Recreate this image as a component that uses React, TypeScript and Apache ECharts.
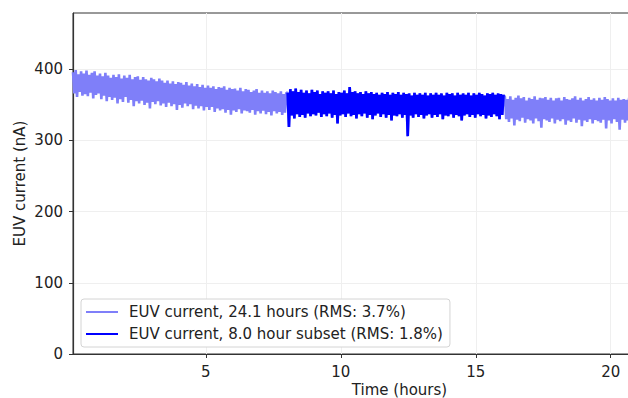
import React, { useEffect, useRef } from "react";
import * as echarts from "echarts";

// sampling grid of the record (hours)
const T0 = 0.08;
const STEP = 0.05;

// EUV current (nA), first part of the 24.1 h record (before the subset)
const lightStart = [
  396, 366, 399, 361, 393, 368, 397, 363, 394, 365,
  398, 362, 392, 367, 395, 359, 397, 364, 391, 366,
  394, 358, 390, 363, 395, 355, 391, 361, 388, 357,
  392, 360, 389, 352, 393, 358, 387, 354, 391, 361,
  388, 353, 392, 357, 386, 348, 389, 355, 390, 352,
  385, 356, 389, 350, 386, 353, 384, 345, 388, 354,
  386, 351, 383, 355, 387, 349, 384, 352, 381, 347,
  384, 353, 380, 348, 383, 351, 379, 343, 382, 350,
  381, 346, 378, 352, 382, 348, 377, 351, 380, 344,
  376, 349, 379, 345, 375, 348, 378, 342, 374, 347,
  377, 343, 374, 347, 376, 340, 372, 345, 375, 342,
  374, 344, 376, 339, 371, 343, 374, 336, 372, 342,
  373, 340, 370, 344, 374, 338, 369, 342, 372, 341,
  371, 339, 368, 343, 370, 336, 372, 341, 367, 338,
  370, 342, 367, 337, 369, 340, 366, 335, 370, 341,
  368, 338, 366, 340, 369, 336, 365, 339, 367,
];

// 8.0 hour subset
const subset = [
  367, 319, 372, 335, 369, 331, 373, 337, 368, 333,
  371, 336, 367, 332, 370, 338, 366, 334, 371, 337,
  368, 335, 370, 339, 365, 333, 369, 337, 367, 334,
  369, 338, 366, 332, 370, 336, 365, 324, 368, 335,
  367, 337, 370, 333, 366, 338, 375, 334, 368, 336,
  369, 331, 366, 337, 368, 334, 365, 338, 369, 332,
  366, 336, 368, 330, 365, 335, 367, 338, 364, 333,
  367, 337, 365, 332, 368, 336, 364, 328, 367, 335,
  365, 334, 368, 337, 364, 332, 367, 336, 365, 306,
  366, 335, 363, 332, 367, 337, 364, 333, 366, 336,
  364, 331, 367, 335, 363, 337, 366, 332, 364, 336,
  367, 333, 364, 337, 366, 330, 363, 335, 367, 334,
  365, 337, 366, 332, 363, 336, 367, 334, 364, 328,
  366, 335, 364, 337, 367, 333, 363, 336, 366, 332,
  364, 337, 367, 334, 365, 336, 363, 331, 366, 335,
  365, 333, 367, 337, 364, 334, 366, 330, 365, 336,
  364,
];

// remainder of the record after the subset
const lightEnd = [
  361, 330, 358, 326, 362, 331, 357, 321, 360, 329,
  363, 327, 359, 332, 361, 325, 356, 330, 360, 328,
  358, 324, 362, 331, 357, 327, 360, 318, 359, 330,
  361, 328, 357, 326, 360, 331, 356, 324, 359, 329,
  360, 327, 356, 330, 361, 322, 358, 328, 357, 326,
  359, 331, 362, 325, 357, 329, 360, 320, 356, 328,
  358, 326, 361, 330, 357, 324, 359, 329, 356, 327,
  360, 325, 357, 329, 361, 317, 358, 328, 356, 324,
  359, 330, 356, 326, 360, 315, 357, 329, 358, 325,
  357, 328, 360, 324,
];

const xTicks = [5, 10, 15, 20];
const yTicks = [0, 100, 200, 300, 400];
const X_MIN = 0.08;
const X_MAX = 24.27;
const Y_MAX = 479;

const NAME_FULL = "EUV current, 24.1 hours (RMS: 3.7%)";
const NAME_SUB = "EUV current, 8.0 hour subset (RMS: 1.8%)";

const FONT = "DejaVu Sans";
const FS = 15;
const LEGEND_ICON = "path://M0,0 H32 V2 H0 Z";

export default function App() {
  const ref = useRef<HTMLDivElement>(null);
  useEffect(() => {
    if (!ref.current) return;
    const chart = echarts.init(ref.current, null, { renderer: "svg" });
    const full = [...lightStart, ...subset, ...lightEnd].map((v, i) => [T0 + STEP * i, v]);
    const dark = subset.map((v, i) => [T0 + STEP * (lightStart.length + i), v]);
    chart.setOption({
      animation: false,
      backgroundColor: "#fff",
      textStyle: { fontFamily: FONT },
      grid: {
        left: 73,
        top: 13,
        width: 653,
        height: 341,
        containLabel: false,
        outerBoundsMode: "none",
        show: true,
        borderColor: "#333",
        borderWidth: 1,
        backgroundColor: "transparent",
      },
      legend: {
        orient: "vertical",
        left: 81,
        top: 299,
        padding: [5.5, 7, 5.5, 5],
        itemWidth: 32,
        itemHeight: 14,
        itemGap: 7,
        borderColor: "#d4d4d4",
        borderWidth: 1,
        borderRadius: 3,
        backgroundColor: "#fff",
        data: [
          { name: NAME_FULL, icon: LEGEND_ICON },
          { name: NAME_SUB, icon: LEGEND_ICON },
        ],
        textStyle: { fontFamily: FONT, fontSize: FS, color: "#222", padding: [0, 0, 0, 6] },
      },
      xAxis: {
        type: "value",
        min: X_MIN,
        max: X_MAX,
        name: "Time (hours)",
        nameLocation: "middle",
        nameGap: 28,
        nameMoveOverlap: false,
        nameTextStyle: { fontFamily: FONT, fontSize: FS, color: "#222" },
        axisLine: { show: true, onZero: false, lineStyle: { color: "#333", width: 1.2 } },
        axisTick: { show: true, inside: false, length: 4, customValues: xTicks, lineStyle: { color: "#333" } },
        axisLabel: { customValues: xTicks, margin: 10, fontFamily: FONT, fontSize: FS, color: "#222" },
        splitLine: { show: false },
      },
      yAxis: {
        type: "value",
        min: 0,
        max: Y_MAX,
        name: "EUV current (nA)",
        nameLocation: "middle",
        nameGap: 46,
        nameMoveOverlap: false,
        nameTextStyle: { fontFamily: FONT, fontSize: FS, color: "#222" },
        axisLine: { show: true, lineStyle: { color: "#333", width: 1.2 } },
        axisTick: { show: true, inside: false, length: 4, customValues: yTicks, lineStyle: { color: "#333" } },
        axisLabel: { customValues: yTicks, margin: 10, fontFamily: FONT, fontSize: FS, color: "#222" },
        splitLine: { show: true, lineStyle: { color: "#efefef", width: 1 } },
      },
      series: [
        {
          name: "xgrid",
          type: "line",
          data: [],
          z: 1,
          silent: true,
          markLine: {
            z: 1,
            silent: true,
            symbol: "none",
            label: { show: false },
            emphasis: { disabled: true },
            lineStyle: { color: "#efefef", type: "solid", width: 1 },
            data: xTicks.map((v) => ({ xAxis: v })),
          },
        },
        {
          name: NAME_FULL,
          type: "line",
          data: full,
          z: 2,
          symbol: "none",
          showSymbol: false,
          clip: true,
          color: "#7f7ff9",
          lineStyle: { color: "#7f7ff9", width: 2.6 },
        },
        {
          name: NAME_SUB,
          type: "line",
          data: dark,
          z: 3,
          symbol: "none",
          showSymbol: false,
          clip: true,
          color: "#0000ff",
          lineStyle: { color: "#0000ff", width: 2.6 },
        },
      ],
    });
    return () => chart.dispose();
  }, []);
  return (
    <div
      ref={ref}
      style={{ position: "fixed", left: 0, top: 0, width: 740, height: 398, background: "#fff" }}
    />
  );
}
